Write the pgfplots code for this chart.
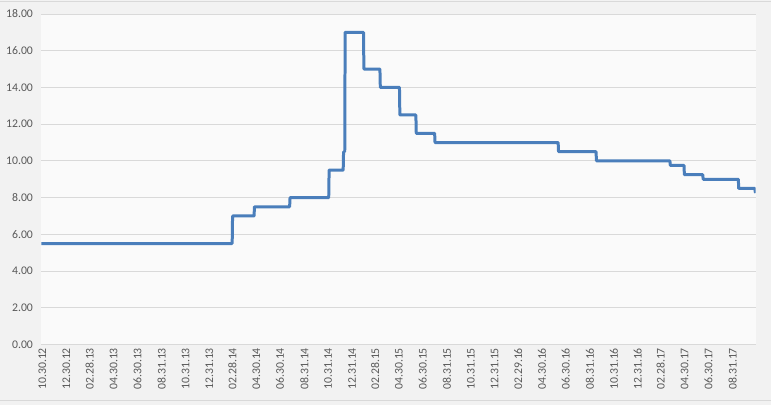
\documentclass[border=0pt]{standalone}
\usepackage{pgfplots}
\pgfplotsset{compat=1.18}
\usepackage{fontspec}
\setmainfont{Carlito}
\definecolor{outerbg}{HTML}{F2F2F2}
\definecolor{innerbg}{HTML}{FAFAFA}
\definecolor{gridc}{HTML}{D9D9D9}
\definecolor{txt}{HTML}{595959}
\definecolor{linec}{HTML}{4A7EBB}
\begin{document}
\begin{tikzpicture}
\fill[outerbg] (0bp,0bp) rectangle (771bp,406bp);
\draw[gridc, line width=1bp] (0bp,404.5bp) -- (771bp,404.5bp);
\draw[gridc, line width=1bp] (0bp,4.5bp) -- (771bp,4.5bp);
\useasboundingbox (0bp,0bp) rectangle (771bp,406bp);
\begin{axis}[
  at={(41bp,61bp)}, anchor=south west,
  scale only axis, width=715bp, height=331bp,
  xmin=0, xmax=1827, ymin=0, ymax=18,
  axis background/.style={fill=innerbg},
  axis line style={draw=none},
  ymajorgrids, grid style={gridc, line width=0.9bp},
  major tick length=0pt,
  ytick={0,2,...,18},
  tick label style={font=\fontsize{11.8}{13}\selectfont, text=txt},
  yticklabel style={anchor=east, xshift=-5bp, /pgf/number format/fixed, /pgf/number format/zerofill, /pgf/number format/precision=2, /pgf/number format/assume math mode=true},
  xticklabel style={rotate=90, anchor=east, yshift=-1bp},
  xtick={0,61,121,182,243,305,366,427,486,547,608,670,731,792,851,912,973,1035,1096,1157,1217,1278,1339,1401,1462,1523,1582,1643,1704,1766},
  xticklabels={10.30.12,12.30.12,02.28.13,04.30.13,06.30.13,08.31.13,10.31.13,12.31.13,02.28.14,04.30.14,06.30.14,08.31.14,10.31.14,12.31.14,02.28.15,04.30.15,06.30.15,08.31.15,10.31.15,12.31.15,02.29.16,04.30.16,06.30.16,08.31.16,10.31.16,12.31.16,02.28.17,04.30.17,06.30.17,08.31.17},
]
\addplot[linec, line width=3bp, line join=round] coordinates {
(0,5.5) (488,5.5) (489,7) (544,7) (545,7.5) (635,7.5) (636,8) (735,8) (736,9.5) (772,9.5) (773,10.5) (776,10.5) (777,17) (824,17) (825,15) (866,15) (867,14) (916,14) (917,12.5) (958,12.5) (959,11.5) (1006,11.5) (1007,11) (1322,11) (1323,10.5) (1419,10.5) (1420,10) (1608,10) (1609,9.75) (1644,9.75) (1645,9.25) (1692,9.25) (1693,9) (1783,9) (1784,8.5) (1825,8.5) (1827,8.25)
};
\end{axis}
\end{tikzpicture}
\end{document}
